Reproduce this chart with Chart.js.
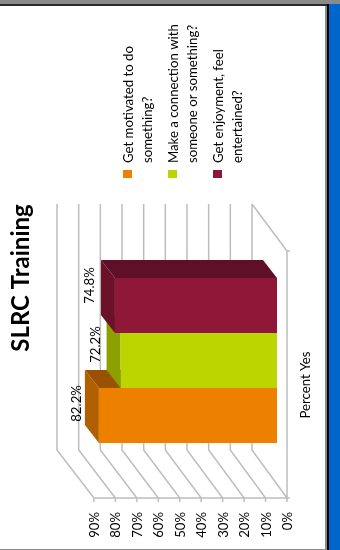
<!DOCTYPE html>
<html>
<head>
<meta charset="utf-8">
<title>SLRC Training</title>
<script src="https://cdn.jsdelivr.net/npm/chart.js@4"></script>
<style>
    html, body { margin: 0; padding: 0; background: #fff; overflow: hidden; }
    #page { position: relative; width: 340px; height: 550px; overflow: hidden; }
    #chart { position: absolute; left: 0; top: 0; }
    .band { position: absolute; }
</style>
</head>
<body>
<div id="page">
    <canvas id="chart" width="340" height="550"></canvas>
    <div class="band" style="left:0;top:0;width:340px;height:4px;background:#8a8a8a"></div>
    <div class="band" style="left:0;top:4px;width:329px;height:2px;background:#2a2a2a"></div>
    <div class="band" style="left:0;top:549px;width:325px;height:1px;background:#8a8a8a"></div>
    <div class="band" style="left:325px;top:6px;width:2px;height:544px;background:#8a8a8a"></div>
    <div class="band" style="left:327px;top:4px;width:2px;height:546px;background:#000"></div>
    <div class="band" style="left:329px;top:4px;width:11px;height:546px;background:#0066cc"></div>
</div>
<script>
const chartTitle = 'SLRC Training';
const categories = ['Percent Yes'];
const seriesNames = [
    ['Get motivated to do', 'something?'],
    ['Make a connection with', 'someone or something?'],
    ['Get enjoyment, feel', 'entertained?']
];
const percentYes = [82.2, 72.2, 74.8];
const valueTicks = [0, 10, 20, 30, 40, 50, 60, 70, 80, 90];

const frontColors = ['#ee8000', '#bcd400', '#8f1838'];
const sideColors = ['#b06000', '#8ca000', '#6b122a'];
const capColors = ['#9a5200', '#7e9000', '#600f28'];

const FONT = 'Lato, "Open Sans", sans-serif';
const GRID = '#bdbdbd';

// the box is faked with offsets from the plane the bars are drawn on
const BAR_DEPTH = { x: -14, y: -18 };
const BACK_WALL = { x: -25, y: -34 };
const FRONT_EDGE = { x: 10, y: 13 };

function drawUpText(ctx, text, x, y, font, align, color) {
    ctx.save();
    ctx.translate(x, y);
    ctx.rotate(-Math.PI / 2);
    ctx.font = font;
    ctx.fillStyle = color || '#000';
    ctx.textAlign = align;
    ctx.textBaseline = 'alphabetic';
    ctx.fillText(text, 0, 0);
    ctx.restore();
}

function fillPoly(ctx, points, color) {
    ctx.beginPath();
    points.forEach((p, i) => i ? ctx.lineTo(p[0], p[1]) : ctx.moveTo(p[0], p[1]));
    ctx.closePath();
    ctx.fillStyle = color;
    ctx.fill();
}

const box3d = {
    id: 'box3d',
    beforeDatasetsDraw(chart) {
        const ctx = chart.ctx;
        const area = chart.chartArea;
        const xScale = chart.scales.x;
        const zero = xScale.getPixelForValue(0);
        const frontX = px => zero + FRONT_EDGE.x + (px - zero) * 0.99;

        const backTop = area.top + BACK_WALL.y;
        const backBottom = area.bottom + BACK_WALL.y + 1;
        const frontTop = area.top + FRONT_EDGE.y;
        const frontBottom = area.bottom + FRONT_EDGE.y + 2;

        ctx.save();
        ctx.strokeStyle = GRID;
        ctx.lineWidth = 1.5;
        ctx.beginPath();
        valueTicks.forEach(v => {
            const px = xScale.getPixelForValue(v);
            const back = px + BACK_WALL.x;
            // back wall line, floor diagonal and the tick under the axis
            ctx.moveTo(back, backTop);
            ctx.lineTo(back, backBottom);
            ctx.lineTo(frontX(px), frontBottom);
            ctx.lineTo(frontX(px), frontBottom + 4);
        });
        const zeroBack = zero + BACK_WALL.x;
        ctx.moveTo(zeroBack, backTop);
        ctx.lineTo(frontX(zero), frontTop);
        ctx.lineTo(frontX(zero), frontBottom);
        ctx.moveTo(frontX(zero) + 3, frontTop);
        ctx.lineTo(frontX(zero), frontTop);
        ctx.moveTo(frontX(xScale.getPixelForValue(90)), frontBottom);
        ctx.lineTo(frontX(zero) + 3, frontBottom);
        ctx.stroke();

        // depth faces go under the fronts, first series first
        percentYes.forEach((v, i) => {
            const bar = chart.getDatasetMeta(i).data[0];
            const top = bar.y - bar.height / 2;
            const bottom = bar.y + bar.height / 2;
            const dx = BAR_DEPTH.x;
            const dy = BAR_DEPTH.y;
            fillPoly(ctx, [[bar.x, top], [bar.base, top], [bar.base + dx, top + dy], [bar.x + dx, top + dy]], capColors[i]);
            fillPoly(ctx, [[bar.x, top], [bar.x, bottom], [bar.x + dx, bottom + dy], [bar.x + dx, top + dy]], sideColors[i]);
        });
        ctx.restore();
    },
    afterDatasetsDraw(chart) {
        const ctx = chart.ctx;
        const xScale = chart.scales.x;
        const zero = xScale.getPixelForValue(0);
        const font = '13.2px ' + FONT;

        valueTicks.forEach(v => {
            const px = zero + FRONT_EDGE.x + (xScale.getPixelForValue(v) - zero) * 0.99;
            drawUpText(ctx, v + '%', px + 5, 512, font, 'right');
        });

        // data labels sit past the end of each bar
        const nudges = [[-18, -12], [-21, -16], [-21, -20]];
        percentYes.forEach((v, i) => {
            const bar = chart.getDatasetMeta(i).data[0];
            drawUpText(ctx, v.toFixed(1) + '%', bar.x + nudges[i][0], bar.y + nudges[i][1], font, 'center');
        });

        drawUpText(ctx, categories[0], 310, 385, font, 'center');
        drawUpText(ctx, chartTitle, 29, 278, 'bold 24px ' + FONT, 'center');

        // legend, wrapped by hand
        const legendX = [123, 168, 213];
        seriesNames.forEach((lines, i) => {
            ctx.fillStyle = frontColors[i];
            ctx.fillRect(legendX[i], 170, 9, 8);
            lines.forEach((line, n) => {
                drawUpText(ctx, line, legendX[i] + 10 + n * 18.5, 163, font, 'left');
            });
        });
    }
};

new Chart(document.getElementById('chart'), {
    type: 'bar',
    data: {
        labels: categories,
        datasets: seriesNames.map((lines, i) => ({
            label: lines.join(' '),
            data: [percentYes[i]],
            backgroundColor: frontColors[i],
            // first series belongs at the bottom of the group
            order: seriesNames.length - i,
            categoryPercentage: 0.673,
            barPercentage: 1
        }))
    },
    options: {
        indexAxis: 'y',
        responsive: false,
        animation: false,
        layout: { padding: { left: 82, right: 63, top: 238, bottom: 67 } },
        plugins: { legend: { display: false }, tooltip: { enabled: false } },
        scales: {
            x: { display: false, reverse: true, min: 0, max: 90 },
            y: { display: false }
        }
    },
    plugins: [box3d]
});
</script>
</body>
</html>
